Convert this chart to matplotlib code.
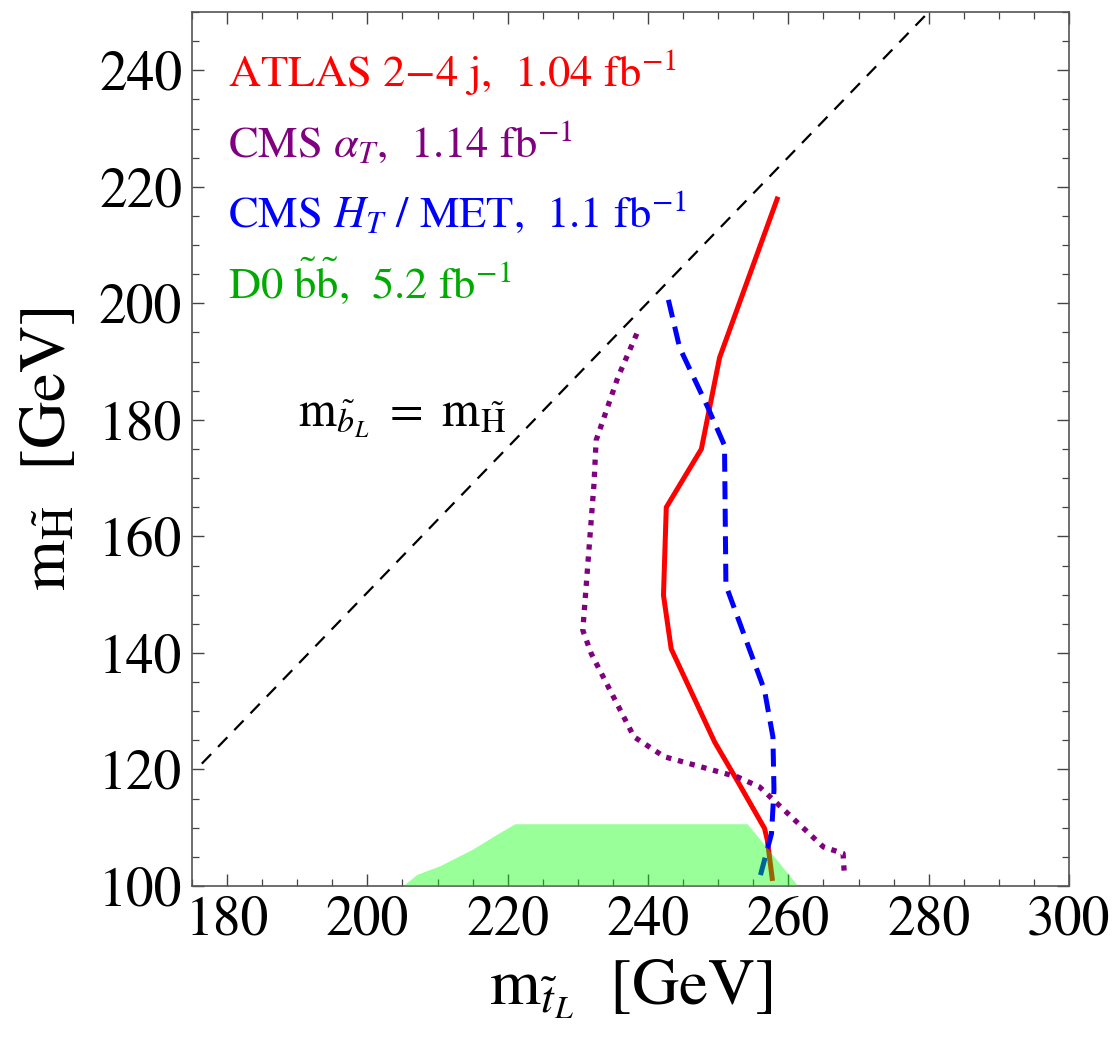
import matplotlib
matplotlib.use("Agg")
import matplotlib.pyplot as plt
from matplotlib.ticker import MultipleLocator

plt.rcParams['font.family'] = ['STIXGeneral', 'DejaVu Serif']
plt.rcParams['mathtext.fontset'] = 'stix'

# ---- data (GeV) ----
atlas_x = [258.4, 254.6, 250.2, 247.6, 242.6, 242.2, 243.3, 249.5, 252.8, 256.6, 257.0, 257.7]
atlas_y = [217.9, 205.3, 190.7, 175.0, 165.0, 149.9, 140.7, 124.7, 117.9, 109.9, 107.9, 101.3]

cms_ht_x = [242.9, 244.5, 248.5, 250.9, 251.1, 256.6, 257.8, 257.95, 257.6, 255.9]
cms_ht_y = [200.6, 192.4, 182.2, 175.6, 151.6, 133.6, 125.6, 116.5, 109.0, 101.3]

cms_at_x = [238.4, 235.7, 232.6, 232.3, 230.7, 231.9, 238.0, 242.3, 252.8, 255.9, 265.0, 267.8, 268.0]
cms_at_y = [194.8, 187.3, 176.5, 169.1, 143.9, 139.9, 125.6, 122.2, 118.7, 117.0, 106.7, 105.6, 101.6]

d0_x = [205.2, 207.1, 210.4, 215.0, 218.8, 221.1, 254.2, 261.4]
d0_y = [100.0, 101.9, 103.4, 106.2, 109.0, 110.6, 110.6, 100.0]

diag_x = [176.4, 280.0]
diag_y = [121.0, 250.0]

legend_texts = [r"ATLAS 2$-$4 j,  1.04 fb$^{-1}$",
                r"CMS $\alpha_T$,  1.14 fb$^{-1}$",
                r"CMS $H_T$ / MET,  1.1 fb$^{-1}$",
                r"D0 $\tilde{\mathrm{b}}\tilde{\mathrm{b}}$,  5.2 fb$^{-1}$"]
legend_colors = ['#ff0000', '#800080', '#0000ff', '#00aa00']
legend_y = [237.3, 225.1, 213.1, 201.0]

fig = plt.figure(figsize=(11.19, 10.37), dpi=100)
ax = fig.add_axes([0.1716, 0.1456, 0.9553 - 0.1716, 0.9884 - 0.1456])

ax.plot(diag_x, diag_y, color='black', lw=1.6, dashes=(6, 4.5))
ax.plot(atlas_x, atlas_y, color='#ff0000', lw=3.6, solid_joinstyle='miter')
ax.plot(cms_ht_x, cms_ht_y, color='#0000ff', lw=3.6, dashes=(3.6, 1.9))
ax.plot(cms_at_x, cms_at_y, color='#800080', lw=3.8, dashes=(1.0, 1.3))
ax.fill(d0_x, d0_y, color=(0, 1, 0), alpha=0.4, lw=0, zorder=3)

for t, c, y in zip(legend_texts, legend_colors, legend_y):
    ax.text(180.1, y, t, color=c, fontsize=32, va='baseline', ha='left')

ax.text(190.1, 178.8, r"$\mathrm{m}_{\tilde{b}_L}\ =\ \mathrm{m}_{\tilde{\mathrm{H}}}$",
        fontsize=35, va='baseline', ha='left')

ax.set_xlim(175, 300)
ax.set_ylim(100, 250)
ax.xaxis.set_minor_locator(MultipleLocator(5))
ax.yaxis.set_minor_locator(MultipleLocator(5))
ax.set_xticks([180, 200, 220, 240, 260, 280, 300])
ax.set_yticks([100, 120, 140, 160, 180, 200, 220, 240])
ax.tick_params(which='both', direction='in', top=True, right=True, color='#444444')
ax.tick_params(which='major', length=8.5, width=1.0, labelsize=40, pad=7)
ax.tick_params(which='minor', length=5, width=0.9)
for s in ax.spines.values():
    s.set_color('#555555')
    s.set_linewidth(1.2)

ax.set_xlabel(r"$\mathrm{m}_{\tilde{t}_L}$  [GeV]", fontsize=47, labelpad=8)
ax.set_ylabel(r"$\mathrm{m}_{\tilde{\mathrm{H}}}$  [GeV]", fontsize=47, labelpad=14)

fig.savefig("out.png", dpi=100)
